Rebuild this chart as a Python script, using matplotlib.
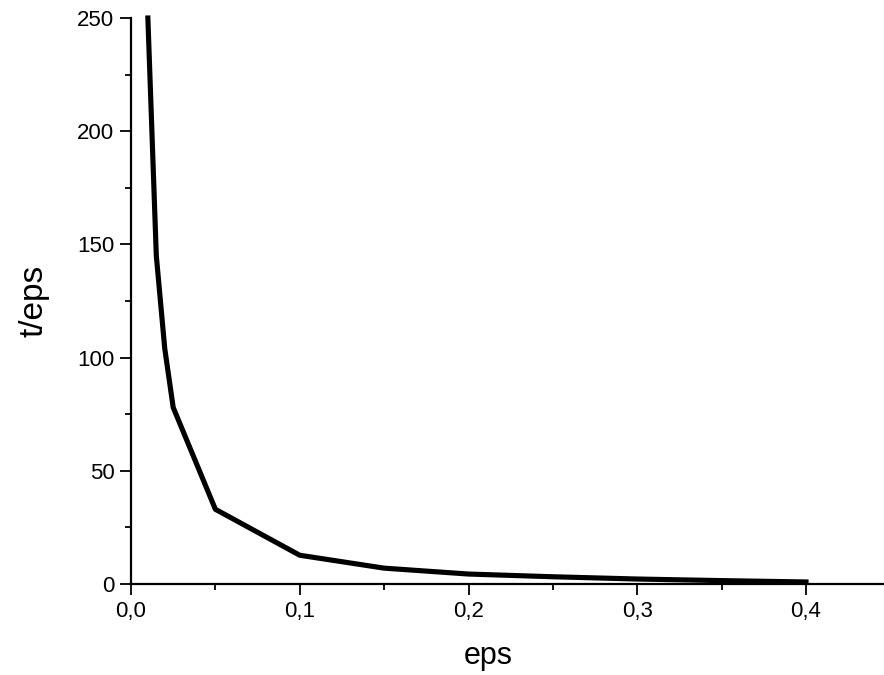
import matplotlib.pyplot as plt
from matplotlib.ticker import MultipleLocator, FuncFormatter

plt.rcParams['font.family'] = ['Liberation Sans', 'DejaVu Sans']

eps = [0.01, 0.015, 0.02, 0.025, 0.05, 0.1, 0.15, 0.2, 0.25, 0.3, 0.35, 0.4]
t_eps = [250, 145, 104, 78, 33, 12.7, 7.0, 4.4, 3.2, 2.2, 1.5, 0.9]

fig = plt.figure(figsize=(8.84, 6.75), dpi=100)
ax = fig.add_axes([131/884, 91/675, 753/884, 566/675])

ax.plot(eps, t_eps, color='black', linewidth=3.7, clip_on=False)

ax.set_xlim(0, 753/1687.5)
ax.set_ylim(0, 250)

ax.spines['top'].set_visible(False)
ax.spines['right'].set_visible(False)
ax.spines['left'].set_linewidth(1.6)
ax.spines['bottom'].set_linewidth(1.6)

ax.xaxis.set_major_locator(MultipleLocator(0.1))
ax.xaxis.set_minor_locator(MultipleLocator(0.05))
ax.yaxis.set_major_locator(MultipleLocator(50))
ax.yaxis.set_minor_locator(MultipleLocator(25))
ax.xaxis.set_major_formatter(FuncFormatter(lambda v, p: f'{v:.1f}'.replace('.', ',')))
ax.yaxis.set_major_formatter(FuncFormatter(lambda v, p: f'{v:.0f}'))

ax.tick_params(which='major', direction='out', length=8, width=1.3, labelsize=16, pad=4)
ax.tick_params(which='minor', direction='out', length=4.5, width=1.3)

ax.set_xlabel('eps', fontsize=22)
ax.xaxis.set_label_coords(0.475, -0.1)
ax.set_ylabel('t/eps', fontsize=24, labelpad=20)

fig.savefig('out.png', dpi=100)
